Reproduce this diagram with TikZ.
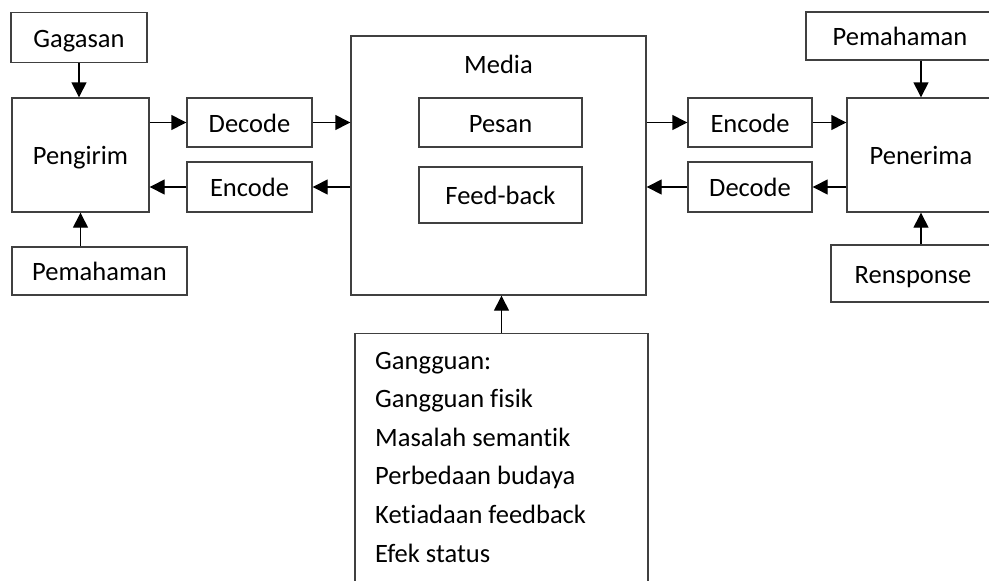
\documentclass[tikz,border=0pt]{standalone}
\usepackage{fontspec}
\setmainfont{Carlito}[RawFeature={-liga}]
\usetikzlibrary{arrows.meta}
\tikzset{
  box/.style={draw=black!75, line width=1.4pt, rectangle, inner sep=0pt,
    font=\fontsize{26.5}{32}\selectfont, text height=22.5pt, text depth=2.6pt},
  arr/.style={draw=black, line width=1.4pt, -{Triangle[length=15pt,width=15pt]}},
  lbl/.style={font=\fontsize{26.5}{32}\selectfont, inner sep=0pt},
}
\begin{document}
\begin{tikzpicture}[x=1pt,y=-1pt]
\clip (0,0) rectangle (989,581);
\fill[white] (0,0) rectangle (989,581);
% left side
\node[box, minimum width=136pt, minimum height=50pt] (gag) at (79,37.5) {Gagasan};
\node[box, minimum width=137pt, minimum height=114pt] (peng) at (80.5,155) {Pengirim};
\node[box, minimum width=125pt, minimum height=49pt] (dec1) at (249.5,122.5) {Decode};
\node[box, minimum width=125pt, minimum height=50pt] (enc1) at (249.5,187) {Encode};
\node[box, minimum width=175pt, minimum height=48pt] (pem1) at (99.5,271) {Pemahaman};
% media
\node[box, minimum width=295pt, minimum height=259pt] (media) at (498.5,165.5) {};
\node[lbl, anchor=base] (mlabel) at (498.5,73) {Media};
\node[box, minimum width=163pt, minimum height=49pt] (pesan) at (500.5,122.5) {Pesan};
\node[box, minimum width=163pt, minimum height=56pt] (feed) at (500.5,195) {Feed-back};
% right side
\node[box, minimum width=124pt, minimum height=49pt] (enc2) at (750,122.5) {Encode};
\node[box, minimum width=124pt, minimum height=50pt] (dec2) at (750,187) {Decode};
\node[box, minimum width=148pt, minimum height=114pt] (pen) at (921,155) {Penerima};
\node[box, minimum width=188pt, minimum height=48pt] (pem2) at (900,36) {Pemahaman};
\node[box, minimum width=164pt, minimum height=57pt] (resp) at (913,273.5) {Rensponse};
% gangguan
\node[box, minimum width=293pt, minimum height=280pt, anchor=north] (gang) at (501.5,333) {};
\node[lbl, anchor=base west] (g1) at (375,369) {Gangguan:};
\node[lbl, anchor=base west] (g2) at (375,407.6) {Gangguan fisik};
\node[lbl, anchor=base west] (g3) at (375,446.2) {Masalah semantik};
\node[lbl, anchor=base west] (g4) at (375,484.8) {Perbedaan budaya};
\node[lbl, anchor=base west] (g5) at (375,523.4) {Ketiadaan feedback};
\node[lbl, anchor=base west] (g6) at (375,562) {Efek status};
% arrows
\draw[arr] (gag.south) -- (gag.south |- peng.north);
\draw[arr] (peng.south |- pem1.north) -- (peng.south);
\draw[arr] (peng.east |- dec1) -- (dec1.west);
\draw[arr] (dec1.east) -- (dec1.east -| media.west);
\draw[arr] (enc1.east -| media.west) -- (enc1.east);
\draw[arr] (enc1.west) -- (enc1.west -| peng.east);
\draw[arr] (enc2.west -| media.east) -- (enc2.west);
\draw[arr] (enc2.east) -- (enc2.east -| pen.west);
\draw[arr] (dec2.east -| pen.west) -- (dec2.east);
\draw[arr] (dec2.west) -- (dec2.west -| media.east);
\draw[arr] (pen.north |- pem2.south) -- (pen.north);
\draw[arr] (pen.south |- resp.north) -- (pen.south);
\draw[arr] (gang.north) -- (gang.north |- media.south);
\end{tikzpicture}
\end{document}
